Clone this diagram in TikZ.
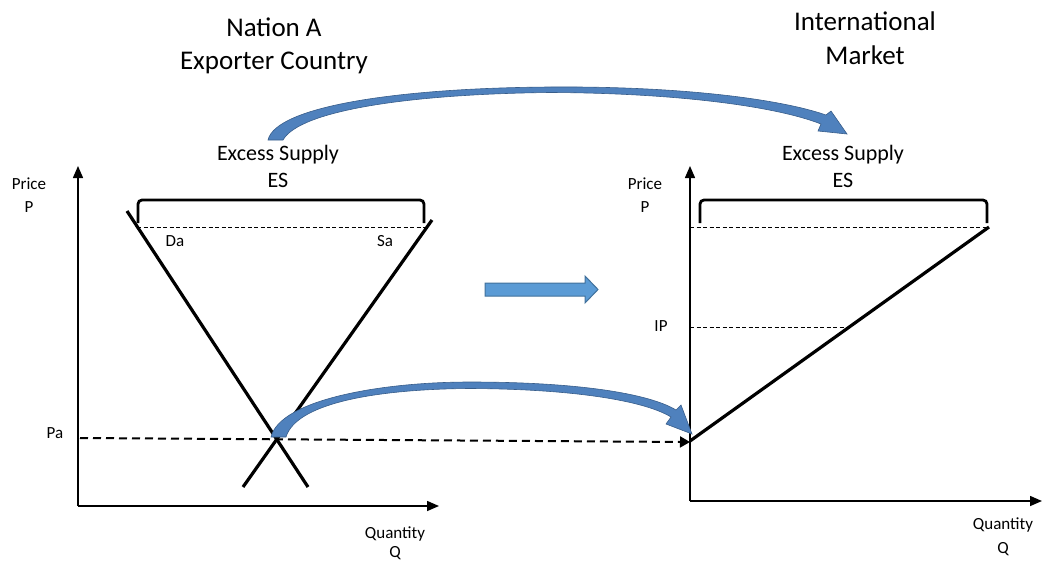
\documentclass[tikz,border=0pt]{standalone}
\usepackage{fontspec}
\setmainfont{Carlito}
\usetikzlibrary{arrows.meta}
\definecolor{arrowblue}{RGB}{79,129,189}
\definecolor{arrowedge}{RGB}{56,93,138}
\definecolor{blockblue}{RGB}{91,155,213}
\definecolor{blockedge}{RGB}{65,113,156}
\begin{document}
\begin{tikzpicture}[x=1pt,y=-1pt,
 lbl/.style={inner sep=0pt, anchor=base},
 big/.style={lbl, font=\fontsize{27}{32}\selectfont},
 mid/.style={lbl, font=\fontsize{22}{26}\selectfont},
 small/.style={lbl, font=\fontsize{17}{20}\selectfont},
 axis/.style={line width=1.5pt, -{Triangle[length=12pt,width=10pt]}},
 curve/.style={line width=3.2pt},
 guide/.style={line width=0.8pt, dash pattern=on 4pt off 2.5pt},
 padash/.style={line width=2pt, dash pattern=on 8pt off 5pt, -{Triangle[length=10pt,width=11pt]}},
 bracket/.style={line width=2.8pt, rounded corners=4pt},
 bluearrow/.style={fill=arrowblue, draw=arrowedge, line width=0.6pt},
 blockarrow/.style={fill=blockblue, draw=blockedge, line width=1pt}]
\useasboundingbox (0,0) rectangle (1042,563);

% ---------- titles ----------
\node[big] (t1) at (274,36) {Nation A};
\node[big] (t2) at (274,69) {Exporter Country};
\node[big] (t3) at (865,30) {International};
\node[big] (t4) at (865,64) {Market};

\node[mid] (es1a) at (278,160) {Excess Supply};
\node[mid] (es1b) at (278,187) {ES};
\node[mid] (es2a) at (843,160) {Excess Supply};
\node[mid] (es2b) at (843,187) {ES};

% ---------- left panel ----------
\coordinate (LO) at (78,506);
\coordinate (LY) at (78,166);
\coordinate (LX) at (439,506);
\draw[axis] (LO) -- (LY);
\draw[axis] (LO) -- (LX);

\node[small] (lp1) at (29,189) {Price};
\node[small] (lp2) at (29,212) {P};
\node[small] (pa) at (55,438) {Pa};
\node[small] (lq1) at (395,538) {Quantity};
\node[small] (lq2) at (395,557) {Q};
\node[small] (da) at (175,246) {Da};
\node[small] (sa) at (385,246) {Sa};

\coordinate (Da1) at (127,211);
\coordinate (Da2) at (308,487);
\coordinate (Sa1) at (432,220);
\coordinate (Sa2) at (243,487);
\draw[curve] (Da1) -- (Da2);
\draw[curve] (Sa1) -- (Sa2);

\coordinate (LB1) at (138,223);
\coordinate (LB2) at (138,200);
\coordinate (LB3) at (424,200);
\coordinate (LB4) at (424,223);
\draw[bracket] (LB1) -- (LB2) -- (LB3) -- (LB4);
\coordinate (LG1) at (137,227);
\coordinate (LG2) at (425,227);
\draw[guide] (LG1) -- (LG2);

% ---------- right panel ----------
\coordinate (RO) at (690,501);
\coordinate (RY) at (690,166);
\coordinate (RX) at (1042,501);
\draw[axis] (RO) -- (RY);
\draw[axis] (RO) -- (RX);

\node[small] (rp1) at (645,189) {Price};
\node[small] (rp2) at (645,212) {P};
\node[small] (ip) at (661,331) {IP};
\node[small] (rq1) at (1003,529) {Quantity};
\node[small] (rq2) at (1003,553) {Q};

\coordinate (RB1) at (700,223);
\coordinate (RB2) at (700,200);
\coordinate (RB3) at (987,200);
\coordinate (RB4) at (987,223);
\draw[bracket] (RB1) -- (RB2) -- (RB3) -- (RB4);
\coordinate (RG1) at (690,227);
\coordinate (RG2) at (987,227);
\draw[guide] (RG1) -- (RG2);
\coordinate (IP1) at (690,327);
\coordinate (IP2) at (848,327);
\draw[guide] (IP1) -- (IP2);

\coordinate (ES1) at (690,441);
\coordinate (ES2) at (989,227);
\draw[curve] (ES1) -- (ES2);

% ---------- Pa dashed line ----------
\coordinate (PA1) at (80,438);
\coordinate (PA2) at (690,442);
\draw[padash] (PA1) -- (PA2);

% ---------- block arrow ----------
\draw[blockarrow] (485,283) -- (585,283) -- (585,276) -- (598,289.5) -- (585,303) -- (585,296) -- (485,296) -- cycle;

% ---------- curved arrow (top) ----------
\draw[bluearrow] (268,140) .. controls (276,106) and (400,88) .. (550,87)
  .. controls (680,86) and (780,99) .. (826,115)
  -- (831,111) -- (847,134) -- (818,131) -- (821,124)
  .. controls (775,106) and (675,93) .. (550,92.5)
  .. controls (412,94) and (300,110) .. (283,140) -- cycle;

% ---------- curved arrow (bottom) ----------
\draw[bluearrow] (271,437) .. controls (280,400) and (380,382) .. (470,382)
  .. controls (580,382) and (650,394) .. (676,410)
  -- (681,405) -- (692,434) -- (666,424) -- (671,417)
  .. controls (645,401) and (575,389) .. (470,388.5)
  .. controls (385,389) and (297,401) .. (286,437) -- cycle;
\end{tikzpicture}
\end{document}
